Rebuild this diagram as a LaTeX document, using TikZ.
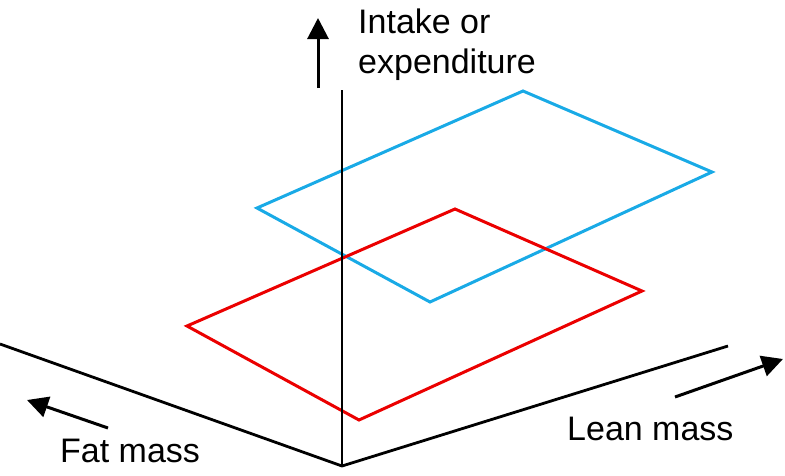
\documentclass[tikz,border=0pt]{standalone}
\usepackage{fontspec}
\setmainfont{Liberation Sans}
\usetikzlibrary{arrows.meta}
\definecolor{qblue}{RGB}{25,170,230}
\definecolor{qred}{RGB}{235,0,0}
\begin{document}
\begin{tikzpicture}[x=1pt,y=-1pt,
  axis/.style={line width=2.8pt,black},
  quad/.style={line width=3pt,line join=miter},
  dirarrow/.style={line width=3pt,-{Triangle[length=21pt,width=21pt]}},
  lbl/.style={font=\fontsize{34}{40}\selectfont,anchor=base west,inner sep=0pt}]
\useasboundingbox (0,0) rectangle (785,475);
% planes
\coordinate (b1) at (257,208);
\coordinate (b2) at (523,91);
\coordinate (b3) at (712,172);
\coordinate (b4) at (430,302);
\coordinate (r1) at (187,326);
\coordinate (r2) at (455,209);
\coordinate (r3) at (642,291);
\coordinate (r4) at (359,420);
\draw[quad,qblue] (b1) -- (b2) -- (b3) -- (b4) -- cycle;
\draw[quad,qred] (r1) -- (r2) -- (r3) -- (r4) -- cycle;
% axes
\coordinate (o) at (342,466);
\coordinate (vtop) at (342,90);
\coordinate (lend) at (0,344);
\coordinate (rend) at (728,346);
\draw[axis] (o) -- (vtop);
\draw[axis,line join=miter] (lend) -- (o) -- (rend);
% direction arrows
\coordinate (ut) at (318,88);
\coordinate (uh) at (318,18);
\draw[dirarrow] (ut) -- (uh);
\coordinate (ft) at (108,428);
\coordinate (fh) at (27,400);
\draw[dirarrow] (ft) -- (fh);
\coordinate (lt) at (675,397);
\coordinate (lh) at (783,359);
\draw[dirarrow] (lt) -- (lh);
% labels
\node[lbl] (t1) at (358,33) {Intake or};
\node[lbl] (t2) at (358,73) {expenditure};
\node[lbl] (fat) at (60,462) {Fat mass};
\node[lbl] (lean) at (567,440) {Lean mass};
\end{tikzpicture}
\end{document}
